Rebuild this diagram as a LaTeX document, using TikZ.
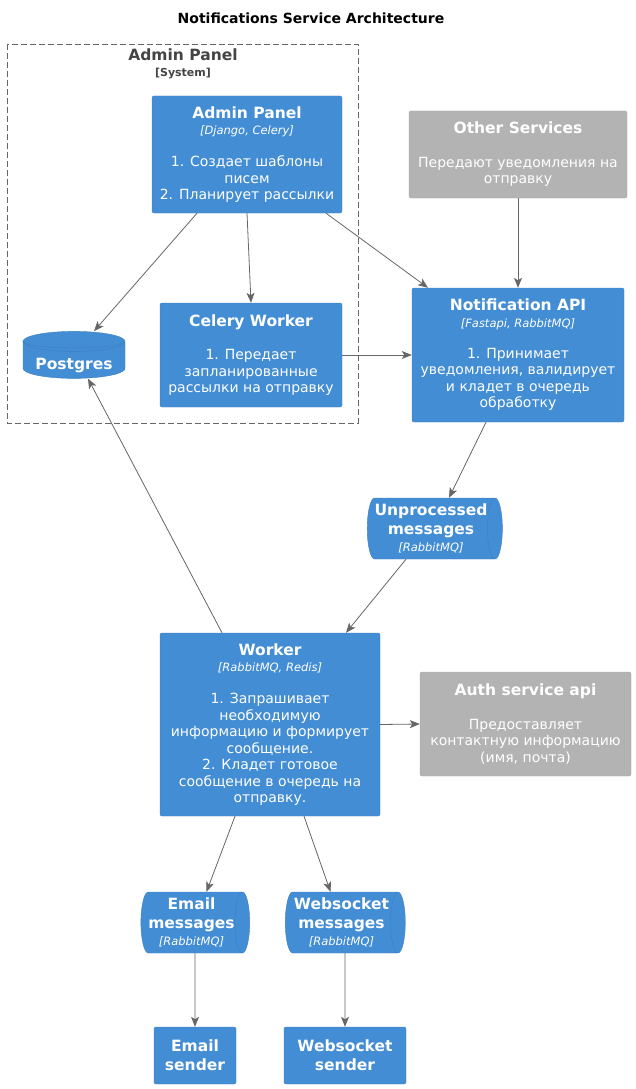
\documentclass[tikz,border=0pt]{standalone}
\usepackage{fontspec}
\setmainfont{DejaVu Sans}
\usetikzlibrary{arrows.meta,shapes.geometric}
\definecolor{contblue}{HTML}{438DD5}
\definecolor{contline}{HTML}{3C7FC0}
\definecolor{extgray}{HTML}{B3B3B3}
\definecolor{extline}{HTML}{A6A6A6}
\definecolor{relgray}{HTML}{666666}
\definecolor{bndtext}{HTML}{444444}
\newcommand\nmfont{\fontsize{15.5}{19}\selectfont\bfseries}
\newcommand\techfont{\fontsize{11.5}{16}\selectfont\itshape}
\tikzset{
  cont/.style={rectangle, rounded corners=2pt, draw=contline, fill=contblue, text=white,
    align=center, inner sep=0pt, font=\fontsize{14}{16.5}\selectfont},
  extsys/.style={cont, draw=extline, fill=extgray},
  queue/.style={cylinder, draw=contline, fill=contblue, text=white, align=center,
    aspect=0.3, inner sep=0pt, font=\fontsize{14}{19}\selectfont},
  dbase/.style={queue, shape border rotate=90, aspect=0.26},
  rel/.style={draw=relgray, line width=0.8pt, -{Stealth[length=10pt,width=8pt,inset=2.5pt]}},
}
\begin{document}
\begin{tikzpicture}[x=1pt,y=-1pt]
\useasboundingbox (0,0) rectangle (635,1089);
\node[font=\fontsize{14}{16}\selectfont\bfseries] (title) at (311,18) {Notifications Service Architecture};
% system boundary
\draw[relgray, dash pattern=on 6pt off 3pt, line width=0.8pt] (7,44) rectangle (358,423);
\node[text=bndtext, align=center, font=\fontsize{11}{16}\selectfont] (bnd) at (183,63.5)
  {{\nmfont Admin Panel}\\{\bfseries [System]}};
% containers
\node[cont, minimum width=190, minimum height=117] (adm) at (247,154.5)
  {{\nmfont Admin Panel}\\{\techfont [Django, Celery]}\\[15.5pt]1. Создает шаблоны\\писем\\2. Планирует рассылки};
\node[cont, minimum width=182, minimum height=104] (cel) at (251,355)
  {{\nmfont Celery Worker}\\[17pt]1. Передает\\запланированные\\рассылки на отправку};
\node[dbase, minimum width=102, minimum height=47] (pg) at (74,360)
  {\nmfont\raisebox{-9.5pt}[0pt][0pt]{Postgres}};
\draw[contline, line width=0.4pt] (pg.before top) arc[start angle=180, end angle=360, x radius=51pt, y radius=6.6pt];
\node[extsys, minimum width=218, minimum height=87] (oth) at (518,154.5)
  {{\nmfont Other Services}\\[17pt]Передают уведомления на\\отправку};
\node[cont, minimum width=212, minimum height=134] (api) at (518,355)
  {{\nmfont Notification API}\\{\techfont [Fastapi, RabbitMQ]}\\[14.5pt]1. Принимает\\уведомления, валидирует\\и кладет в очередь\\обработку};
\node[queue, minimum width=61, minimum height=135] (unp) at (431,528.5)
  {{\nmfont Unprocessed}\\{\nmfont messages}\\[-2pt]{\techfont [RabbitMQ]}};
\node[cont, minimum width=220, minimum height=183] (wrk) at (270,724.5)
  {{\nmfont Worker}\\{\techfont [RabbitMQ, Redis]}\\[15.5pt]1. Запрашивает\\необходимую\\информацию и формирует\\сообщение.\\2. Кладет готовое\\сообщение в очередь на\\отправку.};
\node[extsys, minimum width=211, minimum height=104] (auth) at (525.5,724)
  {{\nmfont Auth service api}\\[17pt]Предоставляет\\контактную информацию\\(имя, почта)};
\node[queue, minimum width=61, minimum height=108] (emq) at (191.5,922.5)
  {{\nmfont Email}\\{\nmfont messages}\\[-2pt]{\techfont [RabbitMQ]}};
\node[queue, minimum width=61, minimum height=120] (wsq) at (341.5,922.5)
  {{\nmfont Websocket}\\{\nmfont messages}\\[-2pt]{\techfont [RabbitMQ]}};
\node[cont, minimum width=82, minimum height=57, font=\fontsize{14}{19}\selectfont] (ems) at (195,1055.5)
  {{\nmfont Email}\\{\nmfont sender}};
\node[cont, minimum width=122, minimum height=57, font=\fontsize{14}{19}\selectfont] (wss) at (345,1055.5)
  {{\nmfont Websocket}\\{\nmfont sender}};
% relations
\draw[rel] ([xshift=-50]adm.south) -- ([xshift=20]pg.north);
\draw[rel] (adm.south) -- (cel.north);
\draw[rel] ([xshift=79]adm.south) -- ([xshift=-90]api.north);
\draw[rel] (cel.east) -- (api.west);
\draw[rel] (oth.south) -- (api.north);
\draw[rel] ([xshift=-32]api.south) -- ([xshift=18]unp.north);
\draw[rel] ([xshift=-25]unp.south) -- ([xshift=76]wrk.north);
\draw[rel] ([xshift=-48]wrk.north) -- ([xshift=14]pg.south);
\draw[rel] (wrk.east) -- (auth.west);
\draw[rel] ([xshift=-35]wrk.south) -- ([xshift=15]emq.north);
\draw[rel] ([xshift=34]wrk.south) -- ([xshift=-11]wsq.north);
\draw[rel] ([xshift=3.5]emq.south) -- (ems.north);
\draw[rel] ([xshift=3.5]wsq.south) -- (wss.north);
\end{tikzpicture}
\end{document}
